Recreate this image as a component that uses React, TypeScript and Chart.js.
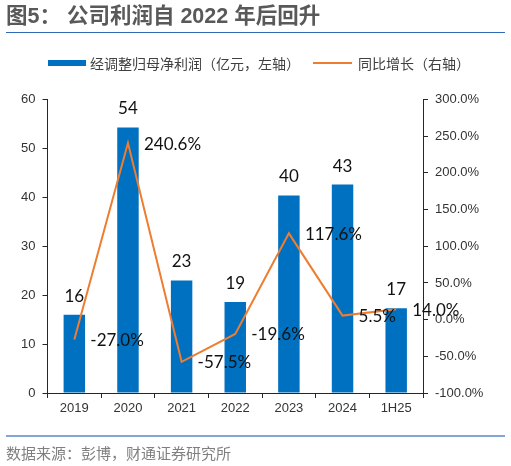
import React, { useEffect, useRef } from "react";
import { Chart, registerables } from "chart.js";

Chart.register(...registerables);

const categories = ["2019", "2020", "2021", "2022", "2023", "2024", "1H25"];
const profitValues = [16.0, 54.3, 23.0, 18.6, 40.4, 42.6, 17.3];
const growthValues = [-27.0, 240.6, -57.5, -19.6, 117.6, 5.5, 14.0];
const leftTicks = { min: 0, max: 60, step: 10 };
const rightTicks = { min: -100, max: 300, step: 50 };

const titleText = "图5： 公司利润自 2022 年后回升";
const barLegend = "经调整归母净利润（亿元，左轴）";
const lineLegend = "同比增长（右轴）";
const sourceText = "数据来源：彭博，财通证券研究所";

const BLUE = "#0070C0";
const ORANGE = "#ED7D31";
const AXIS_FONT = "'Liberation Sans', Arial, sans-serif";
const LABEL_FONT = "Lato, 'Open Sans', sans-serif";
const CJK_FONT = "'Noto Sans CJK SC', 'Noto Sans', sans-serif";

const labelPlugin = {
  id: "valueLabels",
  afterDatasetsDraw(chart: any) {
    const ctx = chart.ctx;
    ctx.save();
    ctx.font = `17px ${LABEL_FONT}`;
    ctx.fillStyle = "#111";
    chart.data.datasets.forEach((ds: any, di: number) => {
      const meta = chart.getDatasetMeta(di);
      meta.data.forEach((el: any, i: number) => {
        const v = ds.data[i];
        if (ds.type === "bar") {
          ctx.textAlign = "center";
          ctx.textBaseline = "alphabetic";
          ctx.fillText(Number(v).toFixed(0), el.x, el.y - 13);
        } else {
          ctx.textAlign = "left";
          ctx.textBaseline = "middle";
          ctx.fillText(Number(v).toFixed(1) + "%", el.x + 16, el.y + 1);
        }
      });
    });
    ctx.restore();
  },
};

export default function App() {
  const canvasRef = useRef<HTMLCanvasElement | null>(null);

  useEffect(() => {
    if (!canvasRef.current) return;
    const axisColor = "#262626";
    const chart = new Chart(canvasRef.current, {
      data: {
        labels: categories,
        datasets: [
          {
            type: "line" as const,
            label: lineLegend,
            data: growthValues,
            yAxisID: "y1",
            borderColor: ORANGE,
            backgroundColor: ORANGE,
            borderWidth: 2,
            pointRadius: 0,
            tension: 0,
            order: 0,
          },
          {
            type: "bar" as const,
            label: barLegend,
            data: profitValues,
            yAxisID: "y",
            backgroundColor: BLUE,
            borderWidth: 0,
            barPercentage: 0.4,
            categoryPercentage: 1,
            order: 1,
          },
        ],
      },
      options: {
        responsive: false,
        animation: false,
        events: [],
        layout: { padding: { top: 99.5, bottom: 43, left: 0, right: 0 } },
        plugins: {
          legend: { display: false },
          tooltip: { enabled: false },
          title: { display: false },
        },
        scales: {
          x: {
            type: "category",
            offset: true,
            grid: {
              display: true,
              offset: true,
              drawOnChartArea: false,
              drawTicks: true,
              tickLength: 5,
              color: axisColor,
            },
            border: { display: true, color: axisColor, width: 1 },
            ticks: {
              font: { family: AXIS_FONT, size: 13 },
              color: "#333",
              padding: 3,
              maxRotation: 0,
              autoSkip: false,
            },
            afterFit: (s: any) => {
              s.height = 30;
            },
          },
          y: {
            type: "linear",
            position: "left",
            min: leftTicks.min,
            max: leftTicks.max,
            grid: {
              drawOnChartArea: false,
              drawTicks: true,
              tickLength: 5,
              color: axisColor,
            },
            border: { display: true, color: axisColor, width: 1 },
            ticks: {
              stepSize: leftTicks.step,
              font: { family: AXIS_FONT, size: 13 },
              color: "#333",
              padding: 7,
            },
            afterFit: (s: any) => {
              s.width = 47.5;
            },
          },
          y1: {
            type: "linear",
            position: "right",
            min: rightTicks.min,
            max: rightTicks.max,
            grid: {
              drawOnChartArea: false,
              drawTicks: true,
              tickLength: 5,
              color: axisColor,
            },
            border: { display: true, color: axisColor, width: 1 },
            ticks: {
              stepSize: rightTicks.step,
              font: { family: AXIS_FONT, size: 13 },
              color: "#333",
              padding: 7,
              callback: (v: any) => Number(v).toFixed(1) + "%",
            },
            afterFit: (s: any) => {
              s.width = 88;
            },
          },
        },
      },
      plugins: [labelPlugin],
    } as any);
    return () => chart.destroy();
  }, []);

  return (
    <div
      style={{
        position: "fixed",
        left: 0,
        top: 0,
        width: 511,
        height: 466,
        background: "#fff",
        overflow: "hidden",
      }}
    >
      <canvas
        ref={canvasRef}
        width={511}
        height={466}
        style={{ position: "absolute", left: 0, top: 0, width: 511, height: 466 }}
      />
      <div
        style={{
          position: "absolute",
          left: 6,
          top: 0,
          height: 33,
          lineHeight: "33px",
          fontFamily: `'Liberation Sans', ${CJK_FONT}`,
          fontWeight: 700,
          fontSize: 21.5,
          color: "#595959",
          whiteSpace: "pre",
        }}
      >
        {titleText}
      </div>
      <div
        style={{
          position: "absolute",
          left: 6,
          top: 31.5,
          width: 499,
          height: 1.5,
          background: "#2E6BB6",
        }}
      />
      <div
        style={{
          position: "absolute",
          left: 47.5,
          top: 60,
          width: 38,
          height: 6,
          background: BLUE,
        }}
      />
      <div
        style={{
          position: "absolute",
          left: 90,
          top: 53,
          lineHeight: "20px",
          fontFamily: CJK_FONT,
          fontSize: 14,
          color: "#404040",
          whiteSpace: "pre",
        }}
      >
        {barLegend}
      </div>
      <div
        style={{
          position: "absolute",
          left: 313,
          top: 62,
          width: 39,
          height: 2,
          background: ORANGE,
        }}
      />
      <div
        style={{
          position: "absolute",
          left: 358,
          top: 53,
          lineHeight: "20px",
          fontFamily: CJK_FONT,
          fontSize: 14,
          color: "#404040",
          whiteSpace: "pre",
        }}
      >
        {lineLegend}
      </div>
      <div
        style={{
          position: "absolute",
          left: 6,
          top: 434.5,
          width: 499,
          height: 2,
          background: "#84A4D2",
        }}
      />
      <div
        style={{
          position: "absolute",
          left: 6,
          top: 443,
          lineHeight: "20px",
          fontFamily: CJK_FONT,
          fontSize: 15,
          color: "#7F7F7F",
          whiteSpace: "pre",
        }}
      >
        {sourceText}
      </div>
    </div>
  );
}
